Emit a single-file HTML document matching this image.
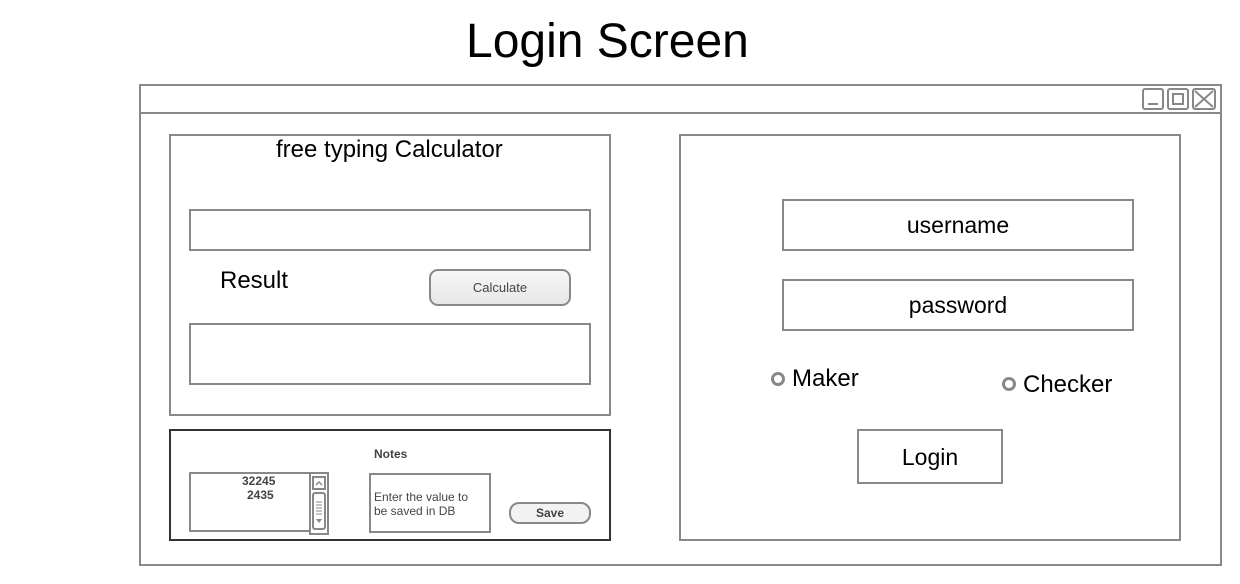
<!DOCTYPE html>
<html><head><style>
body{margin:0;width:1240px;height:584px;background:#fff;position:relative;font-family:"Liberation Sans",Arial,sans-serif;overflow:hidden}
.a{position:absolute;box-sizing:border-box}
.b{border:2px solid #888}
.t{position:absolute;white-space:nowrap}
</style></head><body>
<div class="t" style="left:466px;top:14px;font-size:48px;color:#000">Login Screen</div>
<div class="a b" style="left:139px;top:84px;width:1083px;height:482px"></div>
<div class="a" style="left:140px;top:112px;width:1081px;height:2px;background:#888"></div>
<div class="a b" style="left:1142px;top:88px;width:22px;height:22px;border-radius:3px"></div>
<div class="a" style="left:1148px;top:103px;width:10px;height:2px;background:#888"></div>
<div class="a b" style="left:1167px;top:88px;width:22px;height:22px;border-radius:3px"></div>
<div class="a b" style="left:1172px;top:93px;width:12px;height:12px"></div>
<div class="a b" style="left:1192px;top:88px;width:24px;height:22px;border-radius:3px"></div>
<svg class="a" style="left:1192px;top:88px" width="24" height="22"><path d="M3 3L21 19M21 3L3 19" stroke="#888" stroke-width="2"/></svg>

<div class="a b" style="left:169px;top:134px;width:442px;height:282px"></div>
<div class="t" style="left:276px;top:136px;font-size:24px">free typing Calculator</div>
<div class="a b" style="left:189px;top:209px;width:402px;height:42px"></div>
<div class="t" style="left:220px;top:267px;font-size:24px">Result</div>
<div class="a b" style="left:429px;top:269px;width:142px;height:37px;border-radius:9px;background:linear-gradient(#f6f6f6,#e8e8e8);font-size:13px;color:#444;text-align:center;line-height:34px">Calculate</div>
<div class="a b" style="left:189px;top:323px;width:402px;height:62px"></div>

<div class="a" style="left:169px;top:429px;width:442px;height:112px;border:2px solid #333"></div>
<div class="t" style="left:374px;top:447px;font-size:12px;font-weight:bold;color:#444">Notes</div>
<div class="a b" style="left:189px;top:472px;width:122px;height:60px"></div>
<div class="t" style="left:242px;top:474px;font-size:12px;font-weight:bold;color:#444;line-height:14px">32245</div>
<div class="t" style="left:247px;top:488px;font-size:12px;font-weight:bold;color:#444;line-height:14px">2435</div>
<div class="a b" style="left:309px;top:472px;width:20px;height:63px"></div>
<div class="a b" style="left:312px;top:476px;width:14px;height:14px"></div>
<svg class="a" style="left:312px;top:476px" width="14" height="14"><path d="M4 9L7 6L10 9" stroke="#888" stroke-width="1.5" fill="none"/></svg>
<div class="a b" style="left:312px;top:492px;width:14px;height:38px;border-radius:3px"></div>
<svg class="a" style="left:312px;top:492px" width="14" height="38"><path d="M4 10H10M4 13H10M4 16H10M4 19H10M4 22H10" stroke="#888" stroke-width="1"/><path d="M4 27H10L7 31Z" fill="#888"/></svg>
<div class="a b" style="left:369px;top:473px;width:122px;height:60px"></div>
<div class="t" style="left:374px;top:490px;font-size:12px;color:#444;line-height:14px">Enter the value to<br>be saved in DB</div>
<div class="a b" style="left:509px;top:502px;width:82px;height:22px;border-radius:10px;background:#f2f2f2;font-size:12px;font-weight:bold;color:#444;text-align:center;line-height:19px">Save</div>

<div class="a b" style="left:679px;top:134px;width:502px;height:407px"></div>
<div class="a b" style="left:782px;top:199px;width:352px;height:52px;font-size:23px;text-align:center;line-height:48px">username</div>
<div class="a b" style="left:782px;top:279px;width:352px;height:52px;font-size:23px;text-align:center;line-height:48px">password</div>
<div class="a" style="left:771px;top:372px;width:14px;height:14px;border:3px solid #888;border-radius:50%"></div>
<div class="t" style="left:792px;top:365px;font-size:24px">Maker</div>
<div class="a" style="left:1002px;top:377px;width:14px;height:14px;border:3px solid #888;border-radius:50%"></div>
<div class="t" style="left:1023px;top:371px;font-size:24px">Checker</div>
<div class="a b" style="left:857px;top:429px;width:146px;height:55px;font-size:23px;text-align:center;line-height:52px">Login</div>
</body></html>
